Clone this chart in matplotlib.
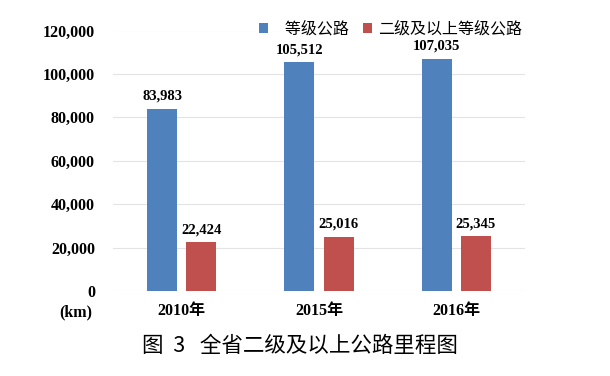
import numpy as np
import matplotlib.pyplot as plt

# data
years = ["2010年", "2015年", "2016年"]
graded_roads = [83983, 105512, 107035]
class2_plus = [22424, 25016, 25345]
series_names = ["   等级公路", "二级及以上等级公路"]
yticks = [0, 20000, 40000, 60000, 80000, 100000, 120000]

blue = "#4f81bd"
red = "#c0504d"
serif = ["Liberation Serif", "Noto Sans CJK SC"]
cjk = ["Noto Sans CJK SC", "DejaVu Sans"]

fig = plt.figure(figsize=(6.1, 3.76), dpi=100)
ax = fig.add_axes([113 / 610, 1 - 291 / 376, 412 / 610, 260.5 / 376])

x = np.arange(len(years))
w = 0.22
off = 0.143
b1 = ax.bar(x - off, graded_roads, w, color=blue, label=series_names[0])
b2 = ax.bar(x + off, class2_plus, w, color=red, label=series_names[1])

# value labels above bars
for bars, vals in [(b1, graded_roads), (b2, class2_plus)]:
    for rect, v in zip(bars, vals):
        ax.text(rect.get_x() + rect.get_width() / 2, v + 5700, f"{v:,}",
                ha="center", va="center", fontsize=10.5, fontweight="bold",
                family=serif)

ax.set_xlim(-0.5, 2.5)
ax.set_ylim(0, 120000)
ax.set_yticks(yticks)
ax.set_yticklabels([f"{t:,}" for t in yticks], family=serif,
                   fontweight="bold", fontsize=11.5)
ax.set_xticks(x)
ax.set_xticklabels(years, family=serif, fontweight="bold", fontsize=11.5)
ax.tick_params(axis="x", length=0, pad=9)
ax.tick_params(axis="y", length=0, pad=13)
ax.grid(axis="y", color="#e3e3e3", linewidth=0.8)
ax.set_axisbelow(True)
for s in ax.spines.values():
    s.set_visible(False)

fig.text(75.5 / 610, 1 - 312 / 376, "(km)", ha="center", va="center",
         fontsize=11.5, fontweight="bold", family=serif)

fig.legend(loc="center left", bbox_to_anchor=(259 / 610, 1 - 29 / 376),
           ncol=2, frameon=False, prop={"family": cjk, "size": 11.5},
           handlelength=0.57, handleheight=0.57, handletextpad=0.35,
           columnspacing=0.9, borderpad=0, borderaxespad=0)

fig.text(300 / 610, 1 - 346 / 376, "图  3   全省二级及以上公路里程图",
         ha="center", va="center", fontsize=15.5, family=cjk)

fig.savefig("out.png", dpi=100)
